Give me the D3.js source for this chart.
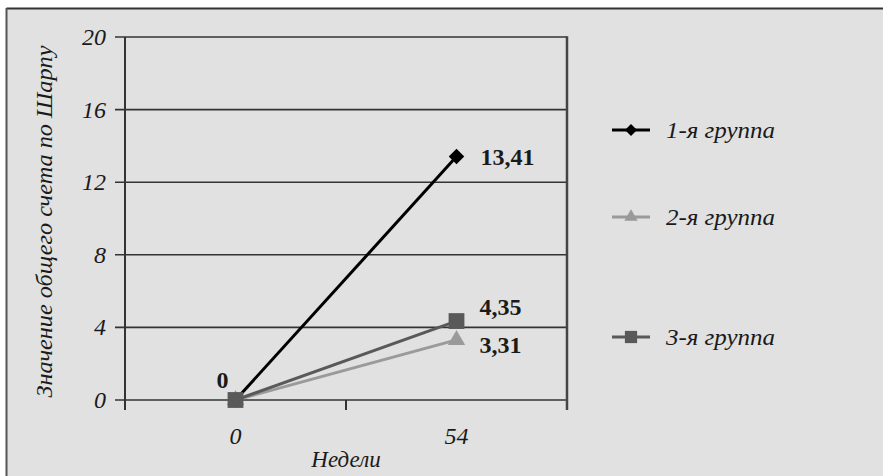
<!DOCTYPE html>
<html><head><meta charset="utf-8">
<script src="https://cdn.jsdelivr.net/npm/d3@7"></script>
<style>body{margin:0;background:#fff}svg{display:block}text{font-family:"Liberation Serif","Times New Roman",Times,"DejaVu Serif",serif}</style>
</head><body>
<script>
const categories = ["0", "54"];
const seriesNames = ["1-я группа", "2-я группа", "3-я группа"];
const group1 = [0, 13.41];
const group2 = [0, 3.31];
const group3 = [0, 4.35];
const yTicks = [0, 4, 8, 12, 16, 20];
const labels1 = ["", "13,41"];
const labels2 = ["", "3,31"];
const labels3 = ["0", "4,35"];

const W = 883, H = 476;
const svg = d3.select("body").append("svg").attr("width", W).attr("height", H);
svg.append("rect").attr("x", 0).attr("y", 0).attr("width", W).attr("height", H).attr("fill", "#fff");
svg.append("rect").attr("x", 7).attr("y", 9).attr("width", W).attr("height", H).attr("fill", "#e1e1e1");
svg.append("line").attr("x1", 6.5).attr("x2", W).attr("y1", 8.5).attr("y2", 8.5).attr("stroke", "#333").attr("stroke-width", 2);
svg.append("line").attr("x1", 6.5).attr("x2", 6.5).attr("y1", 8).attr("y2", H).attr("stroke", "#555").attr("stroke-width", 2);

const x0 = 125, x1 = 567, y0 = 400, y1 = 37;
const x = d3.scaleBand().domain(categories).range([x0, x1]);
const y = d3.scaleLinear().domain([0, 20]).range([y0, y1]);
const cx = c => x(c) + x.bandwidth() / 2;

svg.append("g").selectAll("line").data(yTicks).join("line")
  .attr("x1", x0 - 10).attr("x2", x1).attr("y1", d => y(d)).attr("y2", d => y(d))
  .attr("stroke", "#333").attr("stroke-width", 1.6);
svg.append("line").attr("x1", x0).attr("x2", x0).attr("y1", y1).attr("y2", y0 + 10).attr("stroke", "#333").attr("stroke-width", 2);
svg.append("line").attr("x1", x1).attr("x2", x1).attr("y1", y1 - 0.8).attr("y2", y0 + 10).attr("stroke", "#444").attr("stroke-width", 2.5);
svg.append("line").attr("x1", x(categories[1])).attr("x2", x(categories[1])).attr("y1", y0).attr("y2", y0 + 10).attr("stroke", "#333").attr("stroke-width", 2);

svg.append("g").selectAll("text").data(yTicks).join("text")
  .attr("x", x0 - 19).attr("y", d => y(d) + 8).attr("text-anchor", "end")
  .attr("font-style", "italic").attr("font-size", 24).attr("fill", "#1a1a1a")
  .text(d => d);
svg.append("g").selectAll("text").data(categories).join("text")
  .attr("x", d => cx(d)).attr("y", y0 + 44).attr("text-anchor", "middle")
  .attr("font-style", "italic").attr("font-size", 24).attr("fill", "#1a1a1a")
  .text(d => d);
svg.append("text").attr("x", x(categories[1])).attr("y", 467).attr("text-anchor", "middle")
  .attr("font-style", "italic").attr("font-size", 23).attr("fill", "#1a1a1a").text("Недели");
svg.append("text").attr("transform", `translate(52,${(y0 + y1) / 2 + 3}) rotate(-90)`).attr("text-anchor", "middle")
  .attr("font-style", "italic").attr("font-size", 23).attr("textLength", 352).attr("lengthAdjust", "spacingAndGlyphs")
  .attr("fill", "#1a1a1a")
  .text("Значение общего счета по Шарпу");

const series = [
  {name: seriesNames[0], vals: group1, color: "#000", sym: d3.symbolSquare, rot: 45, size: 120},
  {name: seriesNames[1], vals: group2, color: "#9a9a9a", sym: d3.symbolTriangle, rot: 0, size: 130},
  {name: seriesNames[2], vals: group3, color: "#595959", sym: d3.symbolSquare, rot: 0, size: 250}
];
const line = d3.line().x((d, i) => cx(categories[i])).y(d => y(d));
series.forEach(s => {
  svg.append("path").attr("d", line(s.vals)).attr("fill", "none").attr("stroke", s.color).attr("stroke-width", 3);
});
series.forEach(s => {
  svg.append("g").selectAll("path").data(s.vals).join("path")
    .attr("transform", (d, i) => `translate(${cx(categories[i])},${y(d)}) rotate(${s.rot})`)
    .attr("d", d3.symbol().type(s.sym).size(s.size)).attr("fill", s.color);
});
const lab = (txt, px, py, anchor) => svg.append("text").attr("x", px).attr("y", py).attr("text-anchor", anchor || "start")
  .attr("font-weight", "bold").attr("font-size", 24).attr("fill", "#1a1a1a").text(txt);
lab(labels1[1], cx(categories[1]) + 24, y(group1[1]) + 8);
lab(labels3[1], cx(categories[1]) + 23, y(group3[1]) - 6);
lab(labels2[1], cx(categories[1]) + 23, y(group2[1]) + 13);
lab(labels3[0], cx(categories[0]) - 13, y(group3[0]) - 12, "middle");

const legY = [130, 217, 337];
series.forEach((s, i) => {
  const g = svg.append("g").attr("transform", `translate(612,${legY[i]})`);
  g.append("line").attr("x1", 0).attr("x2", 38).attr("y1", 0).attr("y2", 0).attr("stroke", s.color).attr("stroke-width", 3);
  g.append("path").attr("transform", `translate(19,0) rotate(${s.rot})`).attr("d", d3.symbol().type(s.sym).size(s.size * 0.6)).attr("fill", s.color);
  g.append("text").attr("x", 54).attr("y", 8).attr("font-style", "italic").attr("font-size", 23)
    .attr("textLength", 109).attr("lengthAdjust", "spacingAndGlyphs")
    .attr("fill", "#1a1a1a").text(s.name);
});
</script>
</body></html>
